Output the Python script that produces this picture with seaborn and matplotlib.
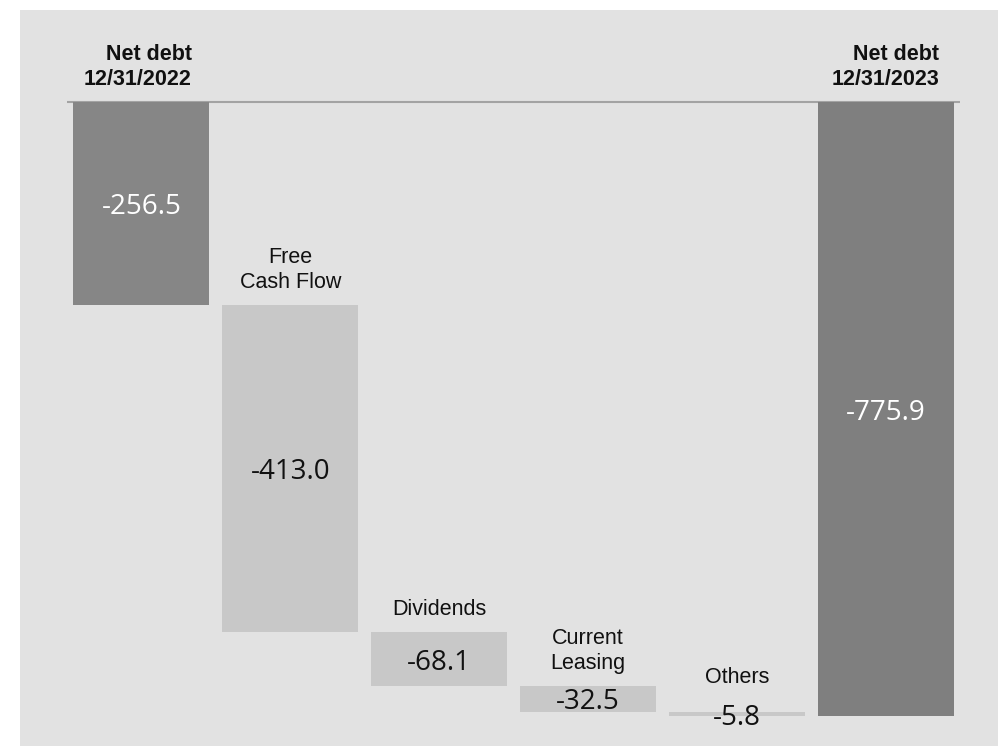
import matplotlib
matplotlib.use("Agg")
import matplotlib.pyplot as plt
import seaborn as sns
import numpy as np
import pandas as pd
from matplotlib.patches import Rectangle

# ---- data ----
categories = ["Net debt\n12/31/2022", "Free\nCash Flow", "Dividends",
              "Current\nLeasing", "Others", "Net debt\n12/31/2023"]
values = [-256.5, -413.0, -68.1, -32.5, -5.8, -775.9]
is_total = [True, False, False, False, False, True]

# waterfall starting points
bottoms = []
running = 0.0
for v, t in zip(values, is_total):
    if t:
        bottoms.append(0.0)
        running = v
    else:
        bottoms.append(running)
        running += v

sns.set_theme(style="white")
plt.rcParams["font.family"] = ["Liberation Sans", "DejaVu Sans"]

W, H = 998, 746
fig = plt.figure(figsize=(W / 100, H / 100), dpi=100)
fig.patch.set_facecolor("white")
fig.patches.append(Rectangle((20 / W, 0), (W - 20) / W, (H - 10) / H,
                             transform=fig.transFigure, facecolor="#e2e2e2",
                             edgecolor="none", zorder=-5))

ax = fig.add_axes([67 / W, 0, 893 / W, 1])
ax.patch.set_visible(False)

df = pd.DataFrame({"cat": categories, "value": values})
face = ["#868686" if i == 0 else ("#7f7f7f" if t else "#c8c8c8")
        for i, t in enumerate(is_total)]

sns.barplot(data=df, x="cat", y="value", order=categories, errorbar=None,
            width=0.914, saturation=1, ax=ax, color="#c8c8c8",
            bottom=np.array(bottoms), facecolor=face,
            edgecolor="none", linewidth=0, zorder=2)

ax.axhline(0, color="#a3a3a3", lw=1.5, zorder=1)
ax.set_xlim(-0.5, 5.5)
ax.set_ylim(-813.2, 128.8)
ax.axis("off")

for i, (cat, v, b, t) in enumerate(zip(categories, values, bottoms, is_total)):
    top = 0.0 if t else b
    mid = b + v / 2
    ax.annotate(f"{v:.1f}", xy=(i, mid), xytext=(0, -2.5), textcoords="offset points",
                ha="center", va="center",
                color="white" if t else "#111111", fontsize=20,
                family=["Open Sans", "DejaVu Sans"], zorder=3)
    off = 17 if cat == "Others" else 9
    dx = -2.5 if i == 0 else 0
    ax.annotate(cat, xy=(i, top), xytext=(dx, off), textcoords="offset points",
                ha="center", va="bottom", multialignment="right" if t else "center",
                fontsize=15.5, fontweight="bold" if t else "normal",
                color="#111111", zorder=3)

fig.savefig("out.png", dpi=100)
